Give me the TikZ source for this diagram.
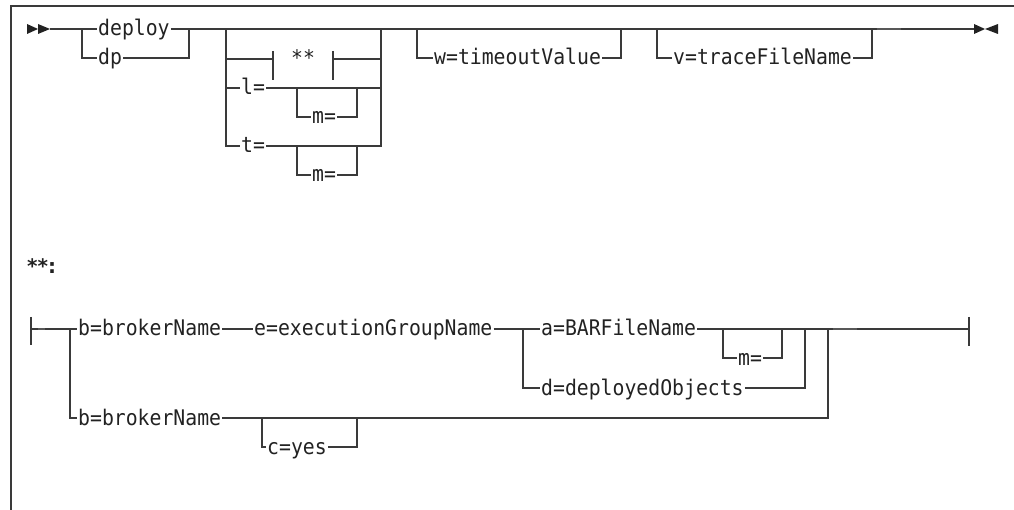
\documentclass[tikz,border=0pt]{standalone}
\usepackage{fontspec}
\newfontfamily\lblfont{DejaVu Sans Mono}[FakeStretch=0.92]
\newfontfamily\hdrfont{DejaVu Sans}
\definecolor{railc}{HTML}{3A3A3A}
\definecolor{textc}{HTML}{222222}
\begin{document}
\begin{tikzpicture}[x=1pt,y=-1pt,
  rail/.style={draw=railc, line width=1.2pt},
  framec/.style={draw=railc, line width=1.3pt},
  lbl/.style={font=\lblfont\fontsize{21.5pt}{22pt}\selectfont, text=textc, inner xsep=1pt, inner ysep=0pt, text height=16pt, text depth=2pt, anchor=west},
  hdr/.style={font=\hdrfont\bfseries\fontsize{20pt}{22pt}\selectfont, text=textc, inner sep=0pt, anchor=base west},
  tri/.style={fill=textc, draw=none},
  tickseg/.style={draw=railc!85, line width=1.8pt}
]
\useasboundingbox (0,0) rectangle (1014,510);
% frame
\draw[framec] (11,510) -- (11,6) -- (1014,6);

% ---------- main diagram ----------
\coordinate (s) at (50,29);
\coordinate (e) at (974,29);
\fill[tri] (27,24) -- (38,29) -- (27,34) -- cycle;
\fill[tri] (38,24) -- (50,29) -- (38,34) -- cycle;
\fill[tri] (974,24) -- (985,29) -- (974,34) -- cycle;
\fill[tri] (998,24) -- (985,29) -- (998,34) -- cycle;

\node[lbl] (deploy) at (97,29) {deploy};
\node[lbl] (dp) at (97,58) {dp};
\coordinate (b1l) at (82,29);
\coordinate (b1r) at (189,29);
\draw[rail] (s) -- (deploy.west);
\draw[rail] (deploy.east) -- (e);
\draw[rail] (b1l) |- (dp.west);
\draw[rail] (dp.east) -| (b1r);

% group
\coordinate (gl) at (226,29);
\coordinate (gr) at (381,29);
\node[lbl] (lq) at (240,88) {l=};
\node[lbl] (tq) at (240,146) {t=};
\draw[rail] (gl) |- (tq.west);
\draw[rail] (tq.east) -| (gr);
\coordinate (bl) at (273,59);
\coordinate (br) at (333,59);
\node[lbl, anchor=center] (star) at (303,59) {**};
\draw[rail] (gl |- bl) -- (bl);
\draw[rail] (bl) ++(0,-8) -- ++(0,29);
\draw[rail] (br) ++(0,-8) -- ++(0,29);
\draw[rail] (br) -- (gr |- br);
\draw[rail] (gl |- lq.west) -- (lq.west);
\draw[rail] (lq.east) -- (gr |- lq.east);
\coordinate (m1l) at (297,88);
\coordinate (m1r) at (357,88);
\node[lbl] (m1) at (311,117) {m=};
\draw[rail] (m1l) |- (m1.west);
\draw[rail] (m1.east) -| (m1r);
\coordinate (m2l) at (297,146);
\coordinate (m2r) at (357,146);
\node[lbl] (m2) at (311,175) {m=};
\draw[rail] (m2l) |- (m2.west);
\draw[rail] (m2.east) -| (m2r);

% w and v
\coordinate (wl) at (417,29);
\coordinate (wr) at (621,29);
\node[lbl] (w) at (433,58) {w=timeoutValue};
\draw[rail] (wl) |- (w.west);
\draw[rail] (w.east) -| (wr);
\coordinate (vl) at (657,29);
\coordinate (vr) at (872,29);
\node[lbl] (v) at (672,58) {v=traceFileName};
\draw[rail] (vl) |- (v.west);
\draw[rail] (v.east) -| (vr);
\draw[tickseg] (877,29) -- (901,29);

% ---------- fragment ----------
\node[hdr] (hd) at (27,274) {**:};
\coordinate (sb) at (31,329);
\coordinate (bb) at (70,329);
\coordinate (eb) at (969,329);
\draw[rail] (sb) ++(0,-12) -- ++(0,28);
\draw[rail] (eb) ++(0,-12) -- ++(0,29);
\node[lbl] (bn1) at (77,329) {b=brokerName};
\node[lbl] (eg) at (253,329) {e=executionGroupName};
\node[lbl] (af) at (540,329) {a=BARFileName};
\node[lbl] (df) at (540,388) {d=deployedObjects};
\node[lbl] (m3) at (737,358) {m=};
\node[lbl] (bn2) at (77,418) {b=brokerName};
\node[lbl] (cy) at (266,447) {c=yes};
\coordinate (al) at (523,329);
\coordinate (ar) at (805,329);
\coordinate (m3l) at (723,329);
\coordinate (m3r) at (782,329);
\coordinate (orr) at (828,329);
\coordinate (cl) at (262,418);
\coordinate (cr) at (357,418);
\draw[rail] (sb) -- (bn1.west);
\draw[rail] (bb) |- (bn2.west);
\draw[rail] (bn1.east) -- (eg.west);
\draw[rail] (eg.east) -- (af.west);
\draw[rail] (af.east) -- (eb);
\draw[rail] (al) |- (df.west);
\draw[rail] (df.east) -| (ar);
\draw[rail] (m3l) |- (m3.west);
\draw[rail] (m3.east) -| (m3r);
\draw[rail] (bn2.east) -| (orr);
\draw[rail] (cl) |- (cy.west);
\draw[rail] (cy.east) -| (cr);
\draw[tickseg] (38,329) -- (45,329);
\draw[tickseg] (833,329) -- (857,329);
\end{tikzpicture}
\end{document}
